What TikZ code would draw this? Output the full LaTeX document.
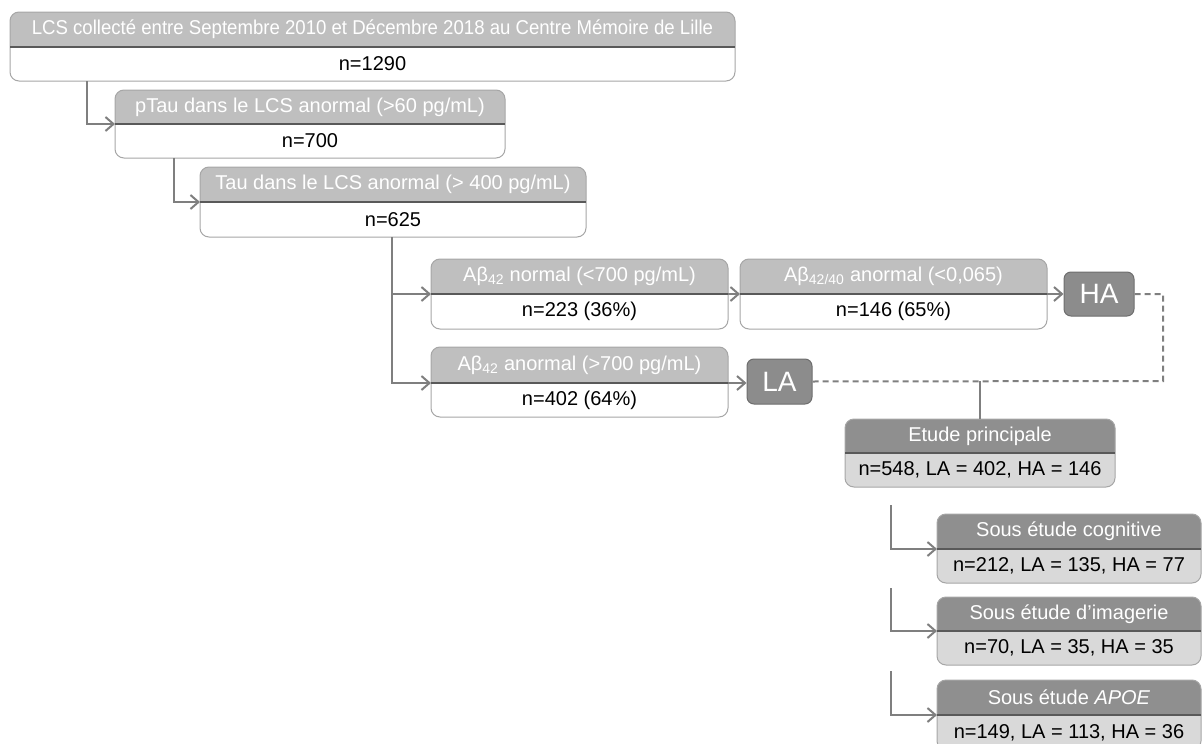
\documentclass[tikz,border=0pt]{standalone}
\usepackage{fontspec}
\setmainfont{Liberation Sans}
\usetikzlibrary{arrows.meta,calc}
\definecolor{lighthead}{HTML}{BFBFBF}
\definecolor{lightbody}{HTML}{FFFFFF}
\definecolor{darkhead}{HTML}{8F8F8F}
\definecolor{darkbody}{HTML}{D9D9D9}
\definecolor{edgec}{HTML}{A6A6A6}
\definecolor{divc}{HTML}{595959}
\definecolor{connc}{HTML}{7F7F7F}
\definecolor{tagfill}{HTML}{8C8C8C}
\definecolor{tagedge}{HTML}{6E6E6E}
\tikzset{
  htext/.style={text=white, font=\fontsize{20}{22}\selectfont, inner sep=0pt},
  btext/.style={text=black, font=\fontsize{20}{22}\selectfont, inner sep=0pt},
  conn/.style={draw=connc, line width=2pt, -{Straight Barb[length=8pt,width=14pt,line width=2pt]}},
  connplain/.style={draw=connc, line width=2pt},
  dashconn/.style={draw=connc, line width=2pt, dash pattern=on 6pt off 4pt},
  tagbox/.style={fill=tagfill, draw=tagedge, line width=1pt, rounded corners=7pt, text=white,
     font=\fontsize{28}{30}\selectfont, inner sep=0pt},
}
% #1 name, #2 x1, #3 y1, #4 x2, #5 ydiv, #6 y2, #7 variant (light/dark), #8 header, #9 body
\newcommand\flowbox[9]{%
  \coordinate (#1-nw) at (#2,#3);
  \coordinate (#1-ne) at (#4,#3);
  \coordinate (#1-dw) at (#2,#5);
  \coordinate (#1-de) at (#4,#5);
  \coordinate (#1-se) at (#4,#6);
  \fill[#7body, rounded corners=9pt] (#1-nw) rectangle (#1-se);
  \begin{scope}
    \clip (#1-nw) rectangle (#1-de);
    \fill[#7head, rounded corners=9pt] (#1-nw) rectangle (#1-se);
  \end{scope}
  \draw[edgec, line width=1pt, rounded corners=9pt] (#1-nw) rectangle (#1-se);
  \draw[divc, line width=2pt] (#1-dw) -- (#1-de);
  \node[htext] (#1-h) at ($(#1-nw)!0.5!(#1-de)$) {#8};
  \node[btext] (#1-b) at ($(#1-dw)!0.5!(#1-se)$) {#9};
}
\begin{document}
\begin{tikzpicture}[x=1pt, y=-1pt]
\useasboundingbox (0,0) rectangle (1203,744);
\begin{scope}
\clip (0,0) rectangle (1203,744);
\flowbox{lcs}{10}{12}{735}{47}{81}{light}{\scalebox{0.93}[1]{LCS collecté entre Septembre 2010 et Décembre 2018 au Centre Mémoire de Lille}}{n=1290}
\flowbox{ptau}{115}{90}{505}{124}{158}{light}{pTau dans le LCS anormal (>60 pg/mL)}{n=700}
\flowbox{tau}{200}{167}{586}{202}{237}{light}{Tau dans le LCS anormal (> 400 pg/mL)}{n=625}
\flowbox{abn}{431}{259}{728}{294}{329}{light}{Aβ\textsubscript{42} normal (<700 pg/mL)}{n=223 (36\%)}
\flowbox{abr}{740}{259}{1047}{294}{329}{light}{Aβ\textsubscript{42/40} anormal (<0,065)}{n=146 (65\%)}
\flowbox{aba}{431}{347}{728}{383}{417}{light}{Aβ\textsubscript{42} anormal (>700 pg/mL)}{n=402 (64\%)}
\flowbox{ep}{845}{419}{1115}{453}{487}{dark}{Etude principale}{n=548, LA = 402, HA = 146}
\flowbox{sc}{937}{514}{1201}{549}{583}{dark}{Sous étude cognitive}{n=212, LA = 135, HA = 77}
\flowbox{si}{937}{597}{1201}{631}{665}{dark}{Sous étude d’imagerie}{n=70, LA = 35, HA = 35}
\flowbox{sa}{937}{680}{1201}{715}{750}{dark}{Sous étude \textit{APOE}}{n=149, LA = 113, HA = 36}

\node[tagbox, minimum width=70pt, minimum height=44pt] (HA) at (1099,294) {HA};
\node[tagbox, minimum width=65pt, minimum height=45pt] (LA) at (779.5,381.5) {LA};

% connectors
\coordinate (c1) at (87,81);
\draw[conn] (c1) |- (ptau-dw);
\coordinate (c2) at (174,158);
\draw[conn] (c2) |- (tau-dw);
\coordinate (c3) at (392,237);
\draw[conn] (c3) |- (abn-dw);
\draw[conn] (c3) |- (aba-dw);
\draw[conn] (abn-de) -- (abr-dw);
\draw[conn] (abr-de) -- (HA.west);
\draw[conn] (aba-de) -- (LA.west |- aba-de);

\coordinate (dj) at (1163,381);
\draw[dashconn] (HA.east) -| (dj) -- (LA.east);
\coordinate (mj) at (980,381);
\draw[connplain] (mj) -- (mj |- ep-nw);

\coordinate (s1) at (891,505);
\draw[conn] (s1) |- (sc-dw);
\coordinate (s2) at (891,588);
\draw[conn] (s2) |- (si-dw);
\coordinate (s3) at (891,671);
\draw[conn] (s3) |- (sa-dw);
\end{scope}
\end{tikzpicture}
\end{document}
